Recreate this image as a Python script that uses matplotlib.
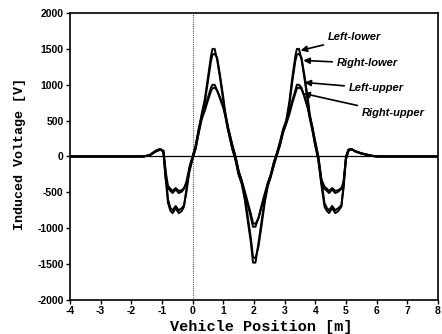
import matplotlib
matplotlib.use("Agg")
import matplotlib.pyplot as plt

plt.rcParams['axes.unicode_minus'] = False

# vehicle position [m]
pos = [-4.0, -1.6, -1.4, -1.2, -1.05, -0.95, -0.88, -0.8, -0.72, -0.65,
       -0.55, -0.45, -0.35, -0.28, -0.2, -0.1, 0.0, 0.1, 0.2, 0.3,
       0.4, 0.5, 0.6, 0.65, 0.72, 0.8, 0.9, 1.0, 1.05, 1.15,
       1.3, 1.4, 1.5, 1.6, 1.7, 1.8, 1.9, 1.97, 2.05, 2.15,
       2.25, 2.35, 2.45, 2.55, 2.65, 2.75, 2.85, 2.95, 3.05, 3.15,
       3.25, 3.35, 3.4, 3.47, 3.55, 3.65, 3.75, 3.82, 3.9, 4.0,
       4.1, 4.2, 4.3, 4.38, 4.45, 4.55, 4.65, 4.75, 4.85, 4.92,
       5.0, 5.08, 5.18, 5.3, 5.5, 5.8, 6.0, 8.0]

# induced voltage [V]
left_lower = [0, 0, 20, 80, 105, 60, -300, -650, -760, -790,
              -720, -790, -760, -700, -450, -150, 0, 150, 380, 600,
              800, 1100, 1400, 1500, 1500, 1350, 1080, 780, 620, 380,
              100, -50, -250, -380, -600, -900, -1200, -1480, -1480, -1200,
              -900, -600, -380, -250, -80, 50, 200, 380, 500, 750,
              1100, 1400, 1500, 1500, 1350, 1080, 780, 550, 380, 150,
              -50, -400, -700, -760, -790, -720, -790, -760, -700, -400,
              0, 95, 105, 70, 40, 10, 0, 0]
right_lower = [0, 0, 15, 70, 95, 80, -200, -600, -720, -750,
               -690, -750, -720, -680, -500, -200, -30, 110, 330, 560,
               760, 1040, 1330, 1420, 1430, 1380, 1120, 830, 660, 420,
               150, 0, -200, -340, -540, -840, -1140, -1400, -1420, -1250,
               -960, -650, -420, -280, -120, 20, 160, 340, 470, 700,
               1040, 1330, 1420, 1430, 1380, 1120, 830, 590, 420, 200,
               0, -330, -650, -720, -750, -690, -750, -720, -680, -450,
               -40, 80, 100, 75, 45, 15, 0, 0]
left_upper = [0, 0, 20, 80, 105, 60, -300, -440, -480, -510,
              -460, -510, -490, -450, -350, -150, 0, 150, 380, 560,
              680, 820, 960, 1000, 1000, 920, 800, 680, 590, 380,
              100, -50, -250, -370, -520, -680, -850, -980, -980, -850,
              -680, -520, -370, -250, -80, 50, 200, 370, 480, 620,
              780, 920, 1000, 1000, 960, 820, 680, 530, 380, 150,
              -50, -380, -450, -480, -510, -460, -510, -490, -450, -350,
              0, 95, 105, 70, 40, 10, 0, 0]
right_upper = [0, 0, 15, 70, 95, 80, -200, -410, -450, -480,
               -440, -480, -470, -440, -380, -200, -30, 110, 330, 520,
               640, 780, 910, 950, 960, 920, 820, 700, 620, 420,
               150, 0, -200, -330, -480, -640, -800, -930, -940, -860,
               -700, -550, -400, -280, -120, 20, 160, 330, 450, 580,
               740, 880, 950, 960, 940, 840, 700, 560, 420, 200,
               0, -320, -420, -450, -480, -440, -480, -470, -440, -380,
               -40, 80, 100, 75, 45, 15, 0, 0]

# labels and where the arrows point
names = ['Left-lower', 'Right-lower', 'Left-upper', 'Right-upper']
tips = [(3.52, 1478), (3.61, 1339), (3.65, 1032), (3.61, 879)]
text_at = [(4.40, 1660), (4.69, 1297), (5.08, 948), (5.51, 600)]

fig = plt.figure(figsize=(4.42, 3.34), dpi=100)
ax = fig.add_axes([0.158, 0.102, 0.833, 0.859])

ax.axhline(0, color='black', lw=0.9, zorder=1)
ax.axvline(0, color='#555555', lw=0.8, linestyle=(0, (1, 1)), zorder=1)

for ys in [left_lower, right_lower, left_upper, right_upper]:
    ax.plot(pos, ys, color='black', lw=1.4, zorder=2)

for name, tip, txt in zip(names, tips, text_at):
    ax.annotate(name, xy=tip, xytext=txt, ha='left', va='center',
                fontsize=8, fontweight='bold', fontstyle='italic',
                family='Liberation Sans',
                arrowprops=dict(arrowstyle='-|>', color='black', lw=1.2,
                                mutation_scale=9, shrinkA=1, shrinkB=0))

ax.set_xlim(-4, 8)
ax.set_ylim(-2000, 2000)
ax.set_xticks(range(-4, 9))
ax.set_yticks(range(-2000, 2001, 500))
ax.tick_params(direction='out', length=3, width=1, labelsize=7.5, pad=1.5)
for lab in ax.get_xticklabels() + ax.get_yticklabels():
    lab.set_fontweight('bold')
    lab.set_family('Liberation Sans')
for sp in ax.spines.values():
    sp.set_linewidth(1.2)

ax.set_xlabel('Vehicle Position [m]', family='Liberation Mono',
              fontweight='bold', fontsize=11)
ax.set_ylabel('Induced Voltage [V]', family='Liberation Mono',
              fontweight='bold', fontsize=9.6)
ax.xaxis.set_label_coords(0.519, -0.07)
ax.yaxis.set_label_coords(-0.12, 0.509)

fig.savefig('out.png', dpi=100)
